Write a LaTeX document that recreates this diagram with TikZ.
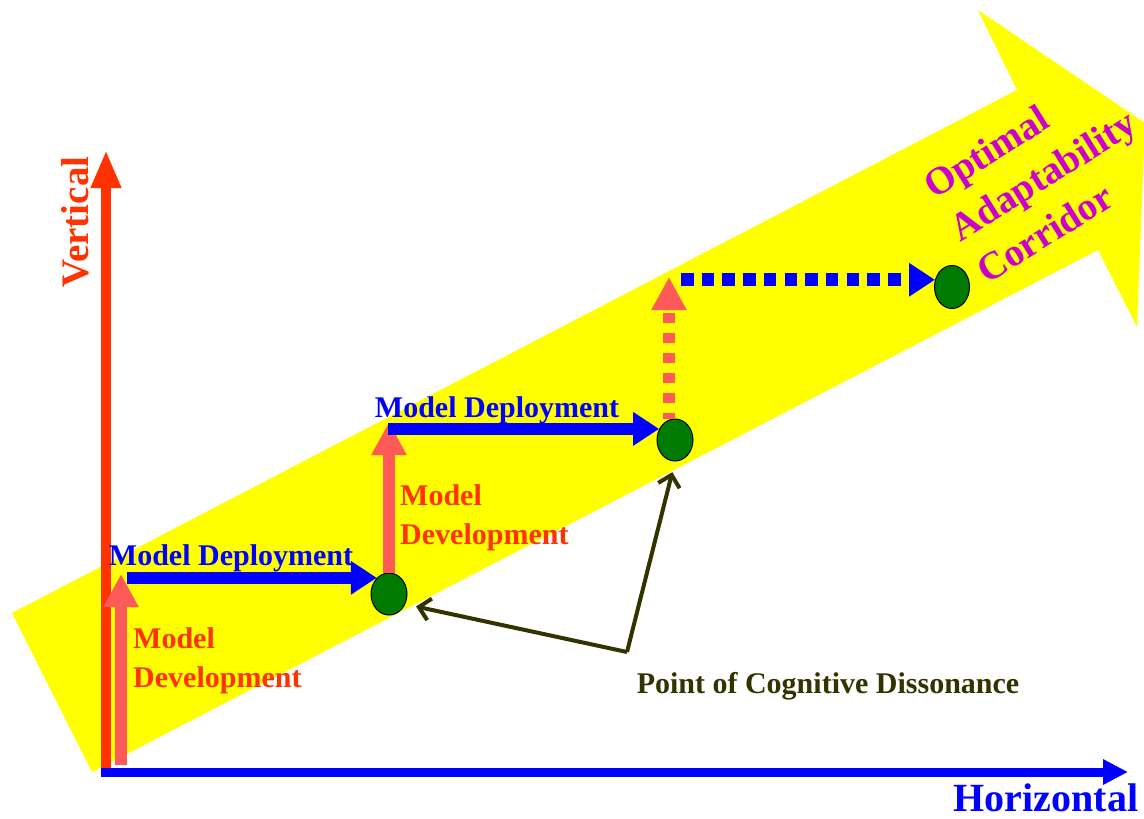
\documentclass[tikz,border=0pt]{standalone}
\usepackage{fontspec}
\setmainfont{Liberation Serif}
\usetikzlibrary{arrows.meta,shapes.geometric,positioning}

\definecolor{corryellow}{HTML}{FFFF00}
\definecolor{axisred}{HTML}{FF3300}
\definecolor{devsalmon}{HTML}{FF5A5A}
\definecolor{depblue}{HTML}{0000FF}
\definecolor{dotgreen}{HTML}{007A00}
\definecolor{pcdolive}{HTML}{333300}
\definecolor{corrmagenta}{HTML}{CC00CC}

\begin{document}
\begin{tikzpicture}[
    x=1pt, y=-1pt,
    dot/.style={ellipse, draw=black, line width=1pt, fill=dotgreen, minimum width=36pt, minimum height=42pt, inner sep=0pt},
    axis/.style={line width=10pt, -{Triangle[width=28pt,length=38pt]}},
    develop/.style={devsalmon, line width=12pt, -{Triangle[width=33pt,length=33pt]}},
    deploy/.style={depblue, line width=12pt, -{Triangle[width=32pt,length=26pt]}},
    pointer/.style={pcdolive, line width=4pt, shorten >=11pt, -{Straight Barb[length=11pt,width=22pt]}},
    label/.style={font=\fontsize{30}{39}\selectfont\bfseries, inner sep=0pt},
    axislabel/.style={font=\fontsize{39}{47}\selectfont\bfseries, inner sep=0pt},
]

\useasboundingbox (0,0) rectangle (1144,819);
\fill[white] (0,0) rectangle (1144,819);

% Corridor
\fill[corryellow] (12,613) -- (1017,90) -- (978,10) -- (1145,123) -- (1137,327) -- (1098,250) -- (92,772) -- cycle;

% Axes
\coordinate (vbase) at (106,772);
\coordinate (vtop) at (106,150);
\coordinate (origin) at (101,772);
\coordinate (htip) at (1128,772);
\draw[axis, axisred] (vbase) -- (vtop);
\draw[axis, depblue, line width=9pt, -{Triangle[width=24pt,length=25pt]}] (origin) -- (htip);

% Points of cognitive dissonance
\node[dot] (c1) at (389,594) {};
\node[dot] (c2) at (675,440) {};
\node[dot, minimum width=35pt, minimum height=43pt] (c3) at (952,287) {};

% Development steps
\coordinate (dev1base) at (121,765);
\coordinate (dev1tip) at (121,574);
\coordinate (dev2tip) at (389,422);
\coordinate (dev3tip) at (669,277);
\draw[develop] (dev1base) -- (dev1tip);
\draw[develop] (c1.north) -- (dev2tip);
\draw[develop, dash pattern=on 10pt off 10pt, dash phase=4pt] (c2.north -| dev3tip) -- (dev3tip);

% Deployment steps
\coordinate (dep1start) at (127,0);
\coordinate (dep2start) at (388,0);
\coordinate (dep3start) at (681,0);
\draw[deploy] (c1.127 -| dep1start) -- (c1.127);
\draw[deploy] (c2.145 -| dep2start) -- (c2.145);
\draw[deploy, line width=13pt, dash pattern=on 12.5pt off 8.2pt] (c3.157 -| dep3start) -- (c3.157);

% Labels
\node[label, depblue] (dep1) at (231,558) {Model Deployment};
\node[label, depblue] (dep2) at (497,410) {Model Deployment};
\node[label, axisred, align=left, anchor=west] (dev1) at (133,661) {Model\\Development};
\node[label, axisred, align=left, anchor=west] (dev2) at (400,518) {Model\\Development};

\node[axislabel, axisred, rotate=90] (vlabel) at (75,222) {Vertical};
\node[axislabel, depblue, font=\fontsize{40}{48}\selectfont\bfseries] (hlabel) at (1046,798) {Horizontal};

% Corridor name
\node[axislabel, font=\fontsize{39}{50}\selectfont\bfseries, corrmagenta, rotate=32, align=left] (corridor) at (1043,175) {Optimal\\Adaptability\\Corridor};

% Cognitive dissonance pointer
\node[label, pcdolive] (pcd) at (828,686) {Point of Cognitive Dissonance};
\coordinate (bend) at (627,652);
\draw[pointer] (bend) -- (c1.-32);
\draw[pointer] (bend) -- (c2.south);

\end{tikzpicture}
\end{document}
